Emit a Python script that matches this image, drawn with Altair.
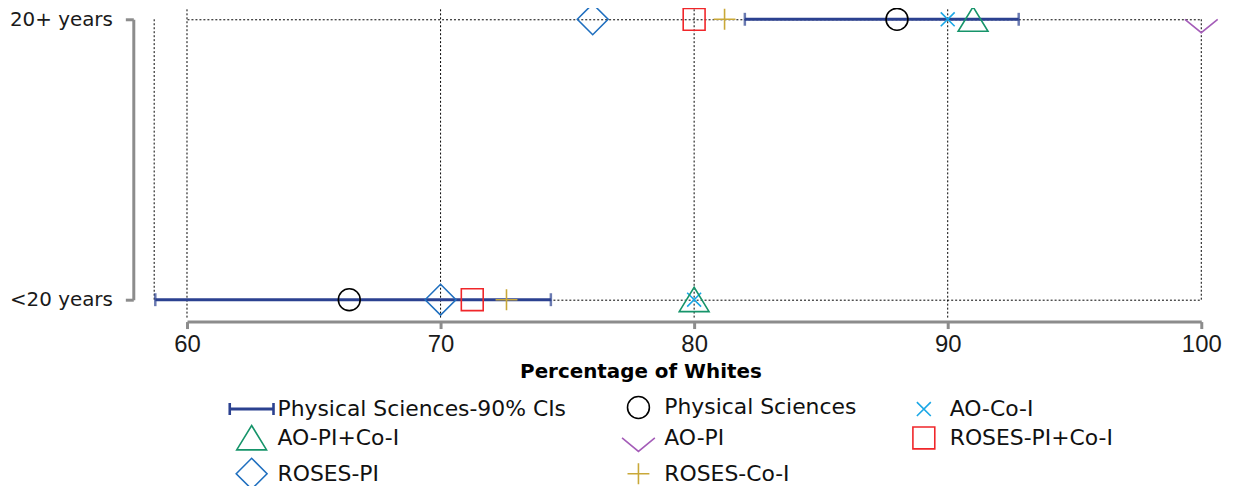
import altair as alt
import pandas as pd

# ---------------- data ----------------
groups = ["20+ years", "<20 years"]
series = ["Physical Sciences-90% CIs", "Physical Sciences", "AO-Co-I", "AO-PI+Co-I",
          "AO-PI", "ROSES-PI+Co-I", "ROSES-PI", "ROSES-Co-I"]
colors = ["#2b4190", "#000000", "#1aa7e6", "#16946a", "#a45cb8", "#f0262a", "#1f6fbf", "#c9a838"]

ci_lo = [82.0, 58.75]
ci_hi = [92.8, 74.35]

phys_sci = [88.0, 66.4]
ao_coi = [90.0, 80.0]
ao_pi_coi = [91.0, 80.0]
ao_pi = [100.0, None]
roses_pi_coi = [80.0, 71.25]
roses_pi = [76.0, 70.0]
roses_coi = [81.2, 72.6]

x_ticks = [60, 70, 80, 90, 100]
x_grid_full = [60, 70, 80, 90]
x_grid_frame = [100]

# ---------------- styles ----------------
shapes = [
    "M-2.25,-0.07L2.25,-0.07M-2.25,0.07L2.25,0.07M-2.25,-0.6L-2.25,0.6M-2.15,-0.6L-2.15,0.6M2.25,-0.6L2.25,0.6M2.15,-0.6L2.15,0.6",
    "M-1.1,0A1.1,1.1,0,1,0,1.1,0A1.1,1.1,0,1,0,-1.1,0Z",
    "M-0.7,-0.7L0.7,0.7M-0.7,0.7L0.7,-0.7",
    "M0,-1.25L1.5,1.2L-1.5,1.2Z",
    "M-1.65,0L0,1.35L1.65,0",
    "M-1.1,-1.1L1.1,-1.1L1.1,1.1L-1.1,1.1Z",
    "M-1.55,0L0,-1.55L1.55,0L0,1.55Z",
    "M-1.1,0L1.1,0M0,-1.05L0,1.05",
]

W, H = 1103, 312
AXIS_GRAY = "#8c8c8c"
FONT = "DejaVu Sans"
TICK_FONT = "Liberation Sans"

point_series = {
    "Physical Sciences": phys_sci,
    "AO-Co-I": ao_coi,
    "AO-PI+Co-I": ao_pi_coi,
    "AO-PI": ao_pi,
    "ROSES-PI+Co-I": roses_pi_coi,
    "ROSES-PI": roses_pi,
    "ROSES-Co-I": roses_coi,
}
rows = []
for name, vals in point_series.items():
    for g, v in zip(groups, vals):
        if v is not None:
            rows.append({"series": name, "group": g, "value": v})
pts = pd.DataFrame(rows)

ci = pd.DataFrame({"group": groups, "lo": ci_lo, "hi": ci_hi})
caps = pd.DataFrame({"group": groups * 2, "end": ci_lo + ci_hi})
vgrid = pd.DataFrame({"x": x_grid_full})
vframe = pd.DataFrame({"x": x_grid_frame, "g1": [groups[0]], "g2": [groups[1]]})
lframe = pd.DataFrame({"g1": [groups[0]], "g2": [groups[1]]})

xscale = alt.Scale(domain=[60, 100], range=[33, 1053], nice=False, zero=False)
yscale = alt.Scale(type="point", domain=groups, range=[10, 292], padding=0)

x_axis = alt.Axis(values=x_ticks, format="d", title="Percentage of Whites",
                  domainColor=AXIS_GRAY, domainWidth=3, tickColor=AXIS_GRAY, tickWidth=3,
                  tickSize=7, labelFontSize=24, labelFont=TICK_FONT, labelPadding=4,
                  labelColor="#1a1a1a", labelFlush=False, titleFontSize=20,
                  titleFont=FONT, titleFontWeight="bold", titleColor="#000000",
                  titleX=489, titleY=56, titleBaseline="alphabetic", grid=False, offset=2)
y_axis = alt.Axis(title=None, domainColor=AXIS_GRAY, domainWidth=3, tickColor=AXIS_GRAY,
                  tickWidth=3, tickSize=8, labelFontSize=20, labelFont=FONT, labelPadding=13,
                  labelColor="#1a1a1a", offset=21, grid=True, gridDash=[2, 2],
                  gridColor="#000000", gridWidth=1)

dash = [2, 2]

grid_full = alt.Chart(vgrid).mark_rule(color="black", strokeDash=dash, strokeWidth=1).encode(
    x=alt.X("x:Q", scale=xscale, axis=x_axis),
    y=alt.value(0), y2=alt.value(H),
)
grid_frame = alt.Chart(vframe).mark_rule(color="black", strokeDash=dash, strokeWidth=1).encode(
    x=alt.X("x:Q", scale=xscale),
    y=alt.Y("g1:N", scale=yscale, axis=y_axis), y2="g2",
)
left_frame = alt.Chart(lframe).mark_rule(color="black", strokeDash=dash, strokeWidth=1).encode(
    x=alt.value(0),
    y=alt.Y("g1:N", scale=yscale), y2="g2",
)

ci_rule = alt.Chart(ci).mark_rule(color=colors[0], strokeWidth=3).encode(
    x=alt.X("lo:Q", scale=xscale), x2="hi",
    y=alt.Y("group:N", scale=yscale),
)
ci_caps = alt.Chart(caps).mark_tick(color=colors[0], thickness=2.5, size=13).encode(
    x=alt.X("end:Q", scale=xscale),
    y=alt.Y("group:N", scale=yscale),
)

legend = alt.Legend(title=None, orient="none", direction="horizontal", legendX=87,
                    legendY=389, columns=3, columnPadding=52, rowPadding=0,
                    labelFontSize=22, labelFont=FONT, labelOffset=15,
                    labelColor="#111111", symbolSize=400, symbolStrokeWidth=1.6,
                    labelLimit=400)

points = alt.Chart(pts).mark_point(filled=False, size=400, strokeWidth=1.6, opacity=1).encode(
    x=alt.X("value:Q", scale=xscale),
    y=alt.Y("group:N", scale=yscale),
    color=alt.Color("series:N", scale=alt.Scale(domain=series, range=colors), legend=legend),
    shape=alt.Shape("series:N", scale=alt.Scale(domain=series, range=shapes), legend=legend),
)

chart = alt.layer(grid_full, grid_frame, left_frame, ci_rule, ci_caps, points).properties(
    width=W, height=H,
    autosize=alt.AutoSizeParams(type="none"),
    padding={"left": 147, "top": 0, "right": 0, "bottom": 166},
).configure(font=FONT).configure_view(stroke=None)

chart.save("out.html", embed_options={"renderer": "svg", "actions": False})
